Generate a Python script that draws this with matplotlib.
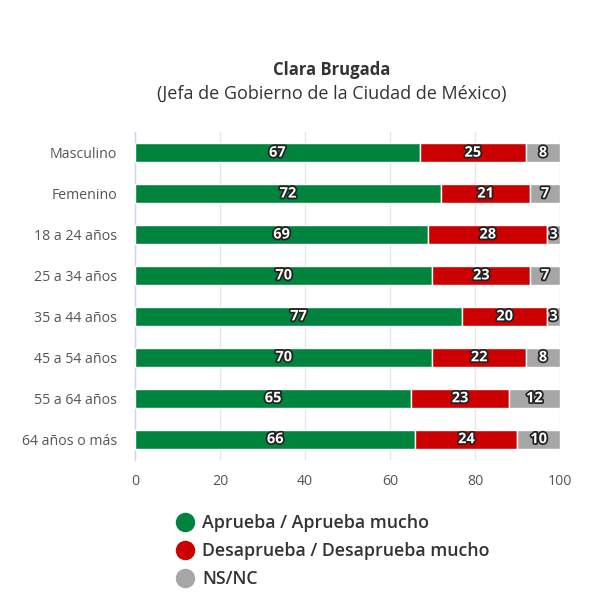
import matplotlib.pyplot as plt
import matplotlib.patheffects as pe
from matplotlib.lines import Line2D
import numpy as np

categorias = ["Masculino", "Femenino", "18 a 24 años", "25 a 34 años",
              "35 a 44 años", "45 a 54 años", "55 a 64 años", "64 años o más"]
aprueba = [67, 72, 69, 70, 77, 70, 65, 66]
desaprueba = [25, 21, 28, 23, 20, 22, 23, 24]
nsnc = [8, 7, 3, 7, 3, 8, 12, 10]

series = ["Aprueba / Aprueba mucho", "Desaprueba / Desaprueba mucho", "NS/NC"]
colores = ["#00843d", "#cc0000", "#a6a6a6"]

plt.rcParams['font.family'] = ['Open Sans', 'DejaVu Sans']

fig = plt.figure(figsize=(6.11, 6.12), dpi=100)
ax = fig.add_axes([0.221, 0.249, 0.6955, 0.535])

y = np.arange(len(categorias))
izq = np.zeros(len(categorias))
efecto = [pe.withStroke(linewidth=2.5, foreground="#222222")]
for vals, col in zip([aprueba, desaprueba, nsnc], colores):
    vals = np.array(vals, dtype=float)
    barras = ax.barh(y, vals, left=izq, height=0.46, color=col,
                     edgecolor="white", linewidth=1, zorder=3)
    for b, v in zip(barras, vals):
        ax.text(b.get_x() + b.get_width() / 2, b.get_y() + b.get_height() / 2,
                "%d" % v, ha="center", va="center", color="white",
                fontsize=10.5, fontweight="bold", path_effects=efecto, zorder=4)
    izq += vals

ax.set_xlim(0, 100)
ax.set_ylim(len(categorias) - 0.5, -0.5)
ax.set_xticks([0, 20, 40, 60, 80, 100])
ax.set_yticks(y)
ax.set_yticklabels(categorias)
ax.tick_params(axis="both", length=0, labelsize=10.2, labelcolor="#555555")
ax.tick_params(axis="x", pad=10)
ax.tick_params(axis="y", pad=13)
ax.grid(axis="x", color="#e6e6e6", linewidth=1, zorder=0)
for s in ["top", "right", "bottom"]:
    ax.spines[s].set_visible(False)
ax.spines["left"].set_color("#ccd6eb")
ax.spines["left"].set_linewidth(1)

fig.text(0.543, 0.886, "Clara Brugada", ha="center", va="center",
         fontsize=12, fontweight="bold", color="#333333")
fig.text(0.543, 0.846, "(Jefa de Gobierno de la Ciudad de México)", ha="center",
         va="center", fontsize=13, color="#333333")

handles = [Line2D([], [], marker="o", linestyle="", markersize=13,
                  markerfacecolor=c, markeredgecolor=c) for c in colores]
fig.legend(handles, series, loc="upper left", bbox_to_anchor=(0.277, 0.172),
           frameon=False, handletextpad=0.45, labelspacing=0.56,
           prop={"size": 12.8, "weight": "semibold"}, labelcolor="#333333",
           handlelength=1.0, borderaxespad=0)

fig.savefig("out.png", dpi=100, facecolor="white")
